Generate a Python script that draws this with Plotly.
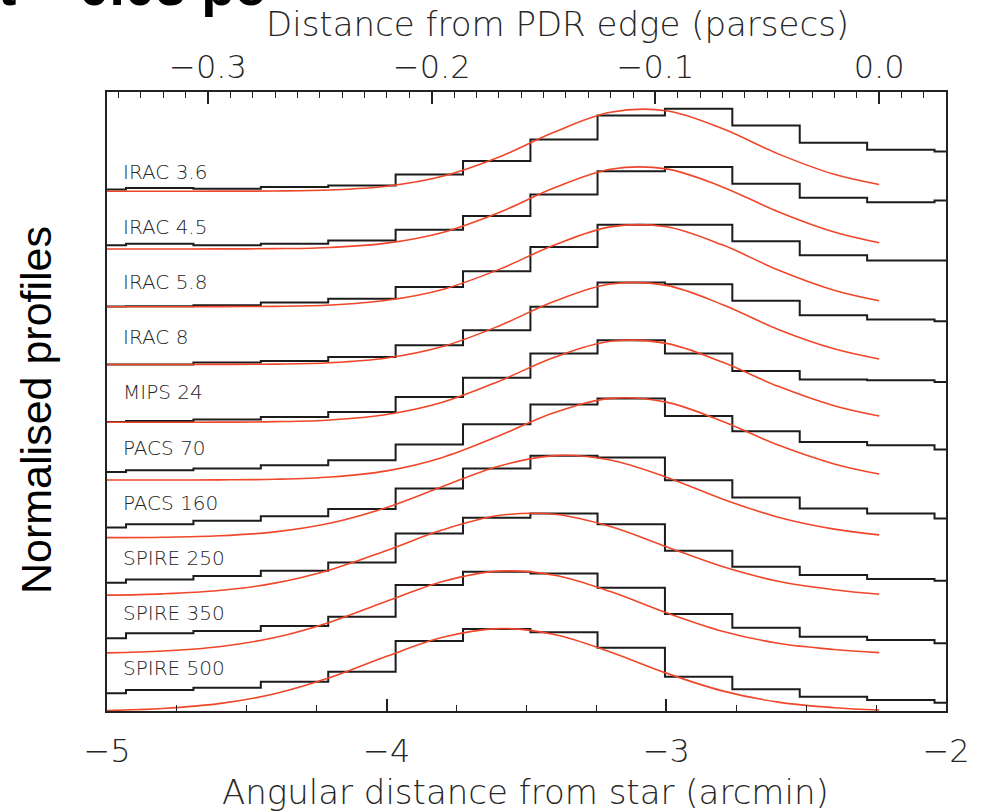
import plotly.graph_objects as go

# ---------------- data ----------------
bands = ["IRAC 3.6", "IRAC 4.5", "IRAC 5.8", "IRAC 8", "MIPS 24",
         "PACS 70", "PACS 160", "SPIRE 250", "SPIRE 350", "SPIRE 500"]

# histogram bin edges (arcmin); last value closes the final bin
bin_edges = [-5.0, -4.932, -4.691, -4.450, -4.209, -3.968, -3.727, -3.486,
             -3.246, -3.005, -2.764, -2.523, -2.282, -2.041, -2.0]

# observed normalised profiles (one value per bin)
hist_irac36 = [0.022, 0.040, 0.030, 0.050, 0.070, 0.204, 0.367, 0.628, 0.919, 1.000, 0.798, 0.588, 0.503, 0.482]
hist_irac45 = [0.044, 0.064, 0.044, 0.064, 0.104, 0.234, 0.399, 0.662, 0.941, 0.993, 0.792, 0.622, 0.568, 0.589]
hist_irac58 = [0.004, 0.006, 0.017, 0.050, 0.098, 0.239, 0.429, 0.724, 0.995, 0.995, 0.793, 0.623, 0.562, 0.562]
hist_irac8 = [0.000, 0.000, 0.023, 0.042, 0.091, 0.233, 0.415, 0.699, 0.993, 0.972, 0.772, 0.596, 0.544, 0.524]
hist_mips24 = [0.004, 0.016, 0.033, 0.064, 0.125, 0.307, 0.539, 0.833, 0.994, 0.833, 0.622, 0.518, 0.509, 0.488]
hist_pacs70 = [0.098, 0.119, 0.139, 0.179, 0.240, 0.430, 0.676, 0.915, 0.988, 0.777, 0.592, 0.462, 0.422, 0.370]
hist_pacs160 = [0.125, 0.165, 0.205, 0.262, 0.347, 0.598, 0.840, 0.993, 0.973, 0.698, 0.488, 0.355, 0.295, 0.234]
hist_spire250 = [0.154, 0.195, 0.235, 0.299, 0.401, 0.753, 0.941, 0.995, 0.865, 0.542, 0.348, 0.247, 0.199, 0.178]
hist_spire350 = [0.181, 0.241, 0.269, 0.330, 0.442, 0.827, 0.988, 0.968, 0.794, 0.475, 0.309, 0.200, 0.160, 0.120]
hist_spire500 = [0.215, 0.255, 0.282, 0.355, 0.476, 0.848, 0.994, 0.954, 0.767, 0.416, 0.263, 0.173, 0.133, 0.101]

# fitted curves, sampled (arcmin)
fit_x = [-5.0, -4.8, -4.6, -4.4, -4.2, -4.0, -3.8, -3.6, -3.4, -3.2, -3.0, -2.8, -2.6, -2.4, -2.239]
fit_irac36 = [0.000, 0.000, 0.001, 0.003, 0.016, 0.061, 0.181, 0.412, 0.718, 0.957, 0.976, 0.760, 0.453, 0.206, 0.082]
fit_irac45 = [0.000, 0.000, 0.001, 0.004, 0.019, 0.071, 0.201, 0.440, 0.741, 0.966, 0.971, 0.753, 0.451, 0.205, 0.075]
fit_irac58 = [0.000, 0.000, 0.001, 0.005, 0.021, 0.078, 0.210, 0.450, 0.748, 0.968, 0.970, 0.750, 0.446, 0.200, 0.072]
fit_irac8 = [0.000, 0.000, 0.001, 0.005, 0.022, 0.079, 0.218, 0.465, 0.767, 0.976, 0.959, 0.727, 0.425, 0.190, 0.066]
fit_mips24 = [0.000, 0.000, 0.001, 0.007, 0.028, 0.094, 0.243, 0.495, 0.788, 0.981, 0.956, 0.729, 0.435, 0.200, 0.075]
fit_pacs70 = [0.000, 0.000, 0.002, 0.009, 0.036, 0.111, 0.274, 0.533, 0.817, 0.989, 0.944, 0.712, 0.423, 0.195, 0.072]
fit_pacs160 = [0.001, 0.006, 0.024, 0.071, 0.178, 0.367, 0.621, 0.867, 0.996, 0.942, 0.734, 0.471, 0.249, 0.105, 0.035]
fit_spire250 = [0.004, 0.020, 0.060, 0.150, 0.313, 0.546, 0.796, 0.969, 0.985, 0.836, 0.592, 0.351, 0.173, 0.070, 0.015]
fit_spire350 = [0.005, 0.027, 0.079, 0.190, 0.380, 0.630, 0.869, 0.995, 0.946, 0.748, 0.490, 0.267, 0.121, 0.045, 0.008]
fit_spire500 = [0.006, 0.031, 0.089, 0.209, 0.408, 0.663, 0.893, 0.999, 0.928, 0.716, 0.459, 0.244, 0.108, 0.040, 0.012]

hists = [hist_irac36, hist_irac45, hist_irac58, hist_irac8, hist_mips24,
         hist_pacs70, hist_pacs160, hist_spire250, hist_spire350, hist_spire500]
fits = [fit_irac36, fit_irac45, fit_irac58, fit_irac8, fit_mips24,
        fit_pacs70, fit_pacs160, fit_spire250, fit_spire350, fit_spire500]

x_ticks = [-5, -4, -3, -2]
pc_ticks = [-0.3, -0.2, -0.1, 0.0]
PC_PER_ARCMIN = 0.125
PC_ZERO_ARCMIN = -2.239

# ---------------- figure ----------------
OFFSET = 0.7
N = len(bands)
X_RANGE = [-5.0, -2.0]
Y_RANGE = [0.0, 7.503]

HFONT = "DejaVu Sans"
TXT = "#262626"

fig = go.Figure()
for i, (h, f) in enumerate(zip(hists, fits)):
    off = OFFSET * (N - 1 - i)
    fig.add_trace(go.Scatter(
        x=bin_edges, y=[v + off for v in h] + [h[-1] + off],
        mode="lines", line=dict(color="#1c1c1c", width=2, shape="hv"),
        showlegend=False, hoverinfo="skip"))
for i, f in enumerate(fits):
    off = OFFSET * (N - 1 - i)
    fig.add_trace(go.Scatter(
        x=fit_x, y=[v + off for v in f],
        mode="lines", line=dict(color="#f0462a", width=1.6, shape="spline", smoothing=1.0),
        showlegend=False, hoverinfo="skip"))

# invisible trace to carry the top (parsec) axis
pc_range = [(X_RANGE[0] - PC_ZERO_ARCMIN) * PC_PER_ARCMIN,
            (X_RANGE[1] - PC_ZERO_ARCMIN) * PC_PER_ARCMIN]
fig.add_trace(go.Scatter(x=pc_range, y=[1, 1], xaxis="x2", mode="lines",
                         line=dict(width=0), showlegend=False, hoverinfo="skip"))

L, R, T, B = 107, 40, 92, 101
W, H = 986, 812
pw, ph = W - L - R, H - T - B

def px_to_paper_x(px):
    return (px - L) / pw

def py_to_paper_y(py):
    return (H - B - py) / ph

annotations = []
# band labels
for k, name in enumerate(bands):
    annotations.append(dict(
        text=name, x=px_to_paper_x(121), y=py_to_paper_y(172 + 55.1 * k),
        xref="paper", yref="paper", xanchor="left", yanchor="middle",
        showarrow=False, font=dict(family=HFONT, size=20, color=TXT, weight=200)))

annotations += [
    dict(text="Distance from PDR edge (parsecs)", x=px_to_paper_x(557), y=py_to_paper_y(24),
         xref="paper", yref="paper", xanchor="center", yanchor="middle", showarrow=False,
         font=dict(family=HFONT, size=34, color=TXT, weight=200)),
    dict(text="Angular distance from star (arcmin)", x=px_to_paper_x(525), y=py_to_paper_y(792),
         xref="paper", yref="paper", xanchor="center", yanchor="middle", showarrow=False,
         font=dict(family=HFONT, size=34, color=TXT, weight=200)),
    dict(text="Normalised profiles", x=px_to_paper_x(36), y=py_to_paper_y(410),
         xref="paper", yref="paper", xanchor="center", yanchor="middle", showarrow=False,
         textangle=-90, font=dict(family="Liberation Sans", size=43, color="#000000")),
    dict(text="t = 0.03 pc", x=px_to_paper_x(-4), y=py_to_paper_y(19),
         xref="paper", yref="paper", xanchor="left", yanchor="bottom", showarrow=False,
         font=dict(family="Liberation Sans", size=55, color="#000000", weight="bold")),
]

fig.update_layout(
    width=W, height=H,
    margin=dict(l=L, r=R, t=T, b=B, pad=0),
    paper_bgcolor="white", plot_bgcolor="white",
    showlegend=False,
    annotations=annotations,
    xaxis=dict(range=X_RANGE, tickvals=x_ticks, ticks="inside", ticklen=12, tickwidth=1.5,
               tickcolor="#222", showline=True, linecolor="#222", linewidth=2, mirror=True,
               showgrid=False, zeroline=False,
               minor=dict(dtick=0.25, ticks="inside", ticklen=6, tickwidth=1.2, tickcolor="#222"),
               tickfont=dict(family=HFONT, size=32, color=TXT, weight=200),
               ticklabelstandoff=11),
    xaxis2=dict(range=pc_range, overlaying="x", side="top", tickvals=pc_ticks, tickformat=".1f",
                ticks="inside", ticklen=12, tickwidth=1.5, tickcolor="#222",
                showline=False, showgrid=False, zeroline=False,
                minor=dict(dtick=0.01, ticks="inside", ticklen=6, tickwidth=1.2, tickcolor="#222"),
                tickfont=dict(family=HFONT, size=32, color=TXT, weight=200),
                ticklabelstandoff=7),
    yaxis=dict(range=Y_RANGE, showticklabels=False, ticks="", showline=True, linecolor="#222",
               linewidth=2, mirror=True, showgrid=False, zeroline=False),
)

fig.write_html("out.html")
